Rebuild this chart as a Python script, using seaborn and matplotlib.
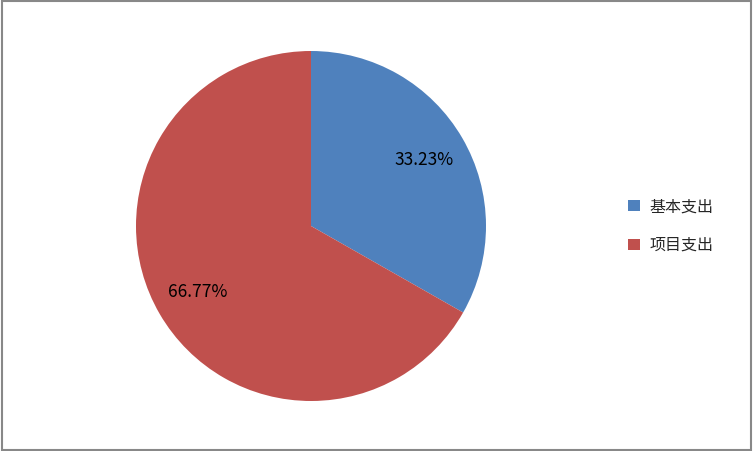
import matplotlib
matplotlib.use('Agg')
import matplotlib.pyplot as plt
import seaborn as sns
from matplotlib.patches import Rectangle

sns.set_theme(style='white')
plt.rcParams['font.family'] = ['Noto Sans CJK SC', 'DejaVu Sans']

# ── Data ───────────────────────────────────────────────────────────────────────
categories = ['基本支出', '项目支出']
shares = [33.23, 66.77]
colors = ['#4f81bd', '#c0504d']

W, H = 753, 451
fig = plt.figure(figsize=(W / 100, H / 100), dpi=100)

# pie centred at (311, 226) px, radius ~175 px
cx, cy, r = 311, 226, 175
ax = fig.add_axes([(cx - r) / W, (H - cy - r) / H, 2 * r / W, 2 * r / H])
wedges, texts, autotexts = ax.pie(
    shares, colors=colors, startangle=90, counterclock=False,
    autopct='%.2f%%', pctdistance=0.75,
    wedgeprops=dict(edgecolor='none'),
    textprops=dict(fontsize=12.5, color='black'))
ax.set_xlim(-1, 1)
ax.set_ylim(-1, 1)
ax.set_aspect('equal')

fig.legend(wedges, categories, loc='center left', bbox_to_anchor=(614 / W, 1 - 226 / H),
           frameon=False, fontsize=11.5, handlelength=0.7, handleheight=0.7,
           labelspacing=1.35, handletextpad=0.6)

# figure border
fig.patches.append(Rectangle((0.002, 0.002), 0.996, 0.996, transform=fig.transFigure,
                             fill=False, edgecolor='#888888', linewidth=1.5))

plt.savefig('out.png', dpi=100)
plt.close()
